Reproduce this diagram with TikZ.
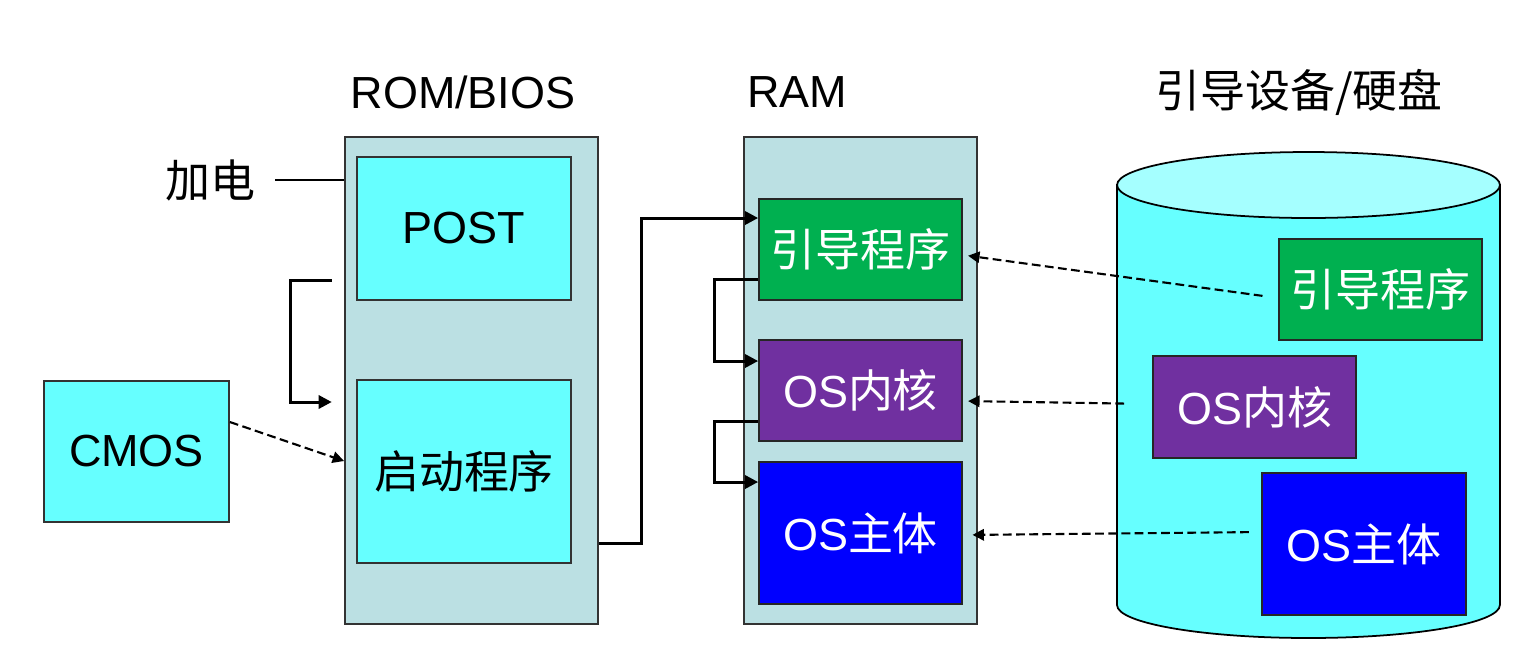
\documentclass[tikz,border=0pt]{standalone}
\usepackage{fontspec}
\setmainfont{Liberation Sans}
\newfontfamily\cjk{Noto Sans CJK SC}
\usetikzlibrary{arrows.meta}
\definecolor{chip}{HTML}{BBE0E3}
\definecolor{cell}{HTML}{66FFFF}
\definecolor{disktop}{HTML}{A5FFFF}
\definecolor{boot}{HTML}{00B050}
\definecolor{kern}{HTML}{7030A0}
\definecolor{osbody}{HTML}{0000FF}

\begin{document}
\begin{tikzpicture}[x=0.02cm,y=-0.02cm,font=\fontsize{25.6}{30}\selectfont,
  chipbox/.style={draw=black!80,line width=1.1pt,fill=chip,minimum width=#1,minimum height=9.74cm},
  cellbox/.style={draw=black!80,line width=1pt,fill=cell},
  prog/.style={draw=black!85,line width=1pt,fill=#1,text=white},
  flow/.style={line width=1.7pt,-{Triangle[length=7.5pt,width=7.5pt]}},
  dflow/.style={line width=1.2pt,dash pattern=on 5pt off 2.5pt,-{Triangle[length=6.5pt,width=6.5pt]}}]
  \useasboundingbox (0,0) rectangle (1539,654);

  % titles over the three columns
  \node (romt) at (463,92) {ROM/BIOS};
  \node (ramt) at (797,92) {RAM};
  \node (diskt) at (1299,92) {\cjk 引导设备/硬盘};

  % ROM/BIOS column
  \node[chipbox=5.06cm] (rom) at (471.5,380.5) {};
  \node[cellbox,minimum width=4.28cm,minimum height=2.86cm] (post) at (464,228.5) {POST};
  \node[cellbox,minimum width=4.28cm,minimum height=3.66cm] (start) at (464,471.5) {\cjk 启动程序};
  \node[cellbox,minimum width=3.7cm,minimum height=2.82cm] (cmos) at (136.5,451.5) {CMOS};
  \node (pwr) at (210,180) {\cjk 加电};

  % RAM column
  \node[chipbox=4.66cm] (ram) at (860.5,380.5) {};
  \node[prog=boot,minimum width=4.06cm,minimum height=2.02cm] (ramboot) at (860.5,249.5) {\cjk 引导程序};
  \node[prog=kern,minimum width=4.06cm,minimum height=2.02cm] (ramkern) at (860.5,390.5) {OS{\cjk 内核}};
  \node[prog=osbody,minimum width=4.06cm,minimum height=2.84cm] (rambody) at (860.5,533) {OS{\cjk 主体}};

  % boot disk drawn as a cylinder
  \draw[draw=black,line width=1pt,fill=cell] (1117,185) -- (1117,605)
    arc[start angle=180,end angle=360,x radius=3.83cm,y radius=0.66cm] -- (1500,185) -- cycle;
  \draw[draw=black,line width=1pt,fill=disktop] (1308.5,185) ellipse[x radius=3.83cm,y radius=0.66cm];
  \node[prog=boot,minimum width=4.06cm,minimum height=2.02cm] (diskboot) at (1380.5,289.5) {\cjk 引导程序};
  \node[prog=kern,minimum width=4.06cm,minimum height=2.04cm] (diskkern) at (1254.5,407) {OS{\cjk 内核}};
  \node[prog=osbody,minimum width=4.08cm,minimum height=2.84cm] (diskbody) at (1364,544) {OS{\cjk 主体}};

  % control flow
  \draw[line width=1.6pt,shorten <=8pt] (pwr.east) -- (pwr.east -| rom.west);
  \draw[flow,shorten <=7pt,shorten >=7pt] (rom.west |- 0,280) -- ++(-54,0) |- (rom.west |- 0,402);
  \draw[dflow] (cmos.east |- 0,422) -- (rom.west |- 0,461);
  \draw[flow] (rom.east |- 0,543) -- ++(43,0) |- (ramboot.west |- 0,218);
  \draw[flow] (ramboot.west |- 0,279) -- ++(-44,0) |- (ramkern.west |- 0,361);
  \draw[flow] (ramkern.west |- 0,421) -- ++(-44,0) |- (rambody.west |- 0,482);

  % loading from disk into memory
  \draw[dflow,shorten <=9pt,shorten >=3pt] (diskboot.west |- 0,298) -- (ramboot.east |- 0,255);
  \draw[dflow,shorten <=16pt,shorten >=3pt] (diskkern.west |- 0,404) -- (ramkern.east |- 0,401);
  \draw[dflow,shorten <=7pt,shorten >=5.5pt] (diskbody.west |- 0,532) -- (rambody.east |- 0,535);
\end{tikzpicture}
\end{document}
